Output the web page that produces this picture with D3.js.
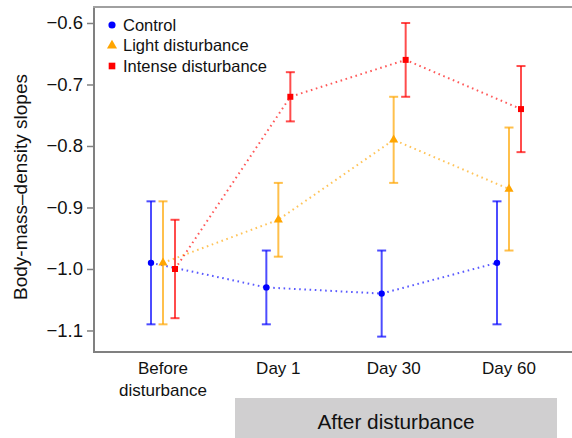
<!DOCTYPE html>
<html>
<head>
<meta charset="utf-8">
<script src="https://cdn.jsdelivr.net/npm/d3@7"></script>
<style>
  body { margin: 0; background: #fff; }
  text { font-family: "Liberation Sans", Arial, sans-serif; fill: #111; }
</style>
</head>
<body>
<svg id="chart" width="572" height="438"></svg>
<script>
// categories on the x axis
const categories = ["Before\ndisturbance", "Day 1", "Day 30", "Day 60"];
const seriesNames = ["Control", "Light disturbance", "Intense disturbance"];
const seriesColors = ["#0000ff", "#ffa500", "#ff0000"];

// mean, lower, upper per category
const controlMean = [-0.99, -1.03, -1.04, -0.99];
const controlLow = [-1.09, -1.09, -1.11, -1.09];
const controlHigh = [-0.89, -0.97, -0.97, -0.89];

const lightMean = [-0.99, -0.92, -0.79, -0.87];
const lightLow = [-1.09, -0.98, -0.86, -0.97];
const lightHigh = [-0.89, -0.86, -0.72, -0.77];

const intenseMean = [-1.00, -0.72, -0.66, -0.74];
const intenseLow = [-1.08, -0.76, -0.72, -0.81];
const intenseHigh = [-0.92, -0.68, -0.60, -0.67];

const yTicks = [-0.6, -0.7, -0.8, -0.9, -1.0, -1.1];

const series = [
    { name: seriesNames[0], color: seriesColors[0], mean: controlMean, low: controlLow, high: controlHigh, shape: d3.symbolCircle, size: 32 },
    { name: seriesNames[1], color: seriesColors[1], mean: lightMean, low: lightLow, high: lightHigh, shape: d3.symbolTriangle, size: 36 },
    { name: seriesNames[2], color: seriesColors[2], mean: intenseMean, low: intenseLow, high: intenseHigh, shape: d3.symbolSquare, size: 36 }
];

const svg = d3.select("#chart");
const margin = { left: 94, top: 7, right: 590, bottom: 352 };

let x = d3.scalePoint()
    .domain(categories)
    .range([163, 509]);

let y = d3.scaleLinear()
    .domain([-1.135, -0.574])
    .range([margin.bottom, margin.top]);

let offset = d3.scalePoint()
    .domain(seriesNames)
    .range([-12, 12]);

// axis lines (left, bottom, top)
svg.append("line")
    .attr("x1", margin.left).attr("x2", margin.left)
    .attr("y1", margin.top).attr("y2", margin.bottom + 1)
    .attr("stroke", "#808080").attr("stroke-width", 2);
svg.append("line")
    .attr("x1", margin.left - 1).attr("x2", margin.right)
    .attr("y1", margin.bottom).attr("y2", margin.bottom)
    .attr("stroke", "#808080").attr("stroke-width", 2);
svg.append("line")
    .attr("x1", margin.left - 1).attr("x2", margin.right)
    .attr("y1", margin.top).attr("y2", margin.top)
    .attr("stroke", "#a0a0a0").attr("stroke-width", 2);

// y axis
let yAxis = d3.axisLeft(y)
    .tickValues(yTicks)
    .tickSize(7)
    .tickPadding(4)
    .tickFormat(d => d3.format(".1f")(d).replace("-", "\u2212"));

let gy = svg.append("g")
    .attr("transform", `translate(${margin.left},0)`)
    .call(yAxis);
gy.select(".domain").remove();
gy.selectAll(".tick line").attr("stroke", "#808080").attr("stroke-width", 1.5);
gy.selectAll(".tick text")
    .attr("font-size", 18.5)
    .attr("fill", "#111")
    .style("font-family", "'Liberation Sans', Arial, sans-serif");

// y label
svg.append("text")
    .attr("transform", "translate(27,187) rotate(-90)")
    .attr("text-anchor", "middle")
    .attr("font-size", 19)
    .text("Body-mass\u2013density slopes");

// x category labels
categories.forEach(c => {
    let lines = c.split("\n");
    let t = svg.append("text")
        .attr("x", x(c))
        .attr("y", 374)
        .attr("text-anchor", "middle")
        .attr("font-size", 17);
    lines.forEach((l, i) => {
        t.append("tspan")
            .attr("x", x(c))
            .attr("dy", i === 0 ? 0 : 22)
            .text(l);
    });
});

// after disturbance band
svg.append("rect")
    .attr("x", 235)
    .attr("y", 398)
    .attr("width", 322)
    .attr("height", 40)
    .attr("fill", "#d0cfd0");
svg.append("text")
    .attr("x", 396)
    .attr("y", 429)
    .attr("text-anchor", "middle")
    .attr("font-size", 20.8)
    .text("After disturbance");

// series: dotted lines, error bars, markers
series.forEach(s => {
    let pts = categories.map((c, i) => ({
        x: x(c) + offset(s.name),
        mean: s.mean[i],
        low: s.low[i],
        high: s.high[i]
    }));

    svg.append("path")
        .datum(pts)
        .attr("fill", "none")
        .attr("stroke", s.color)
        .attr("stroke-opacity", 0.65)
        .attr("stroke-width", 2)
        .attr("stroke-dasharray", "1.6,3.6")
        .attr("d", d3.line().x(d => d.x).y(d => y(d.mean)));

    let g = svg.append("g").attr("stroke", s.color).attr("stroke-opacity", 0.7).attr("stroke-width", 2);
    g.selectAll(".bar").data(pts).join("line")
        .attr("x1", d => d.x).attr("x2", d => d.x)
        .attr("y1", d => y(d.low)).attr("y2", d => y(d.high));
    g.selectAll(".capLow").data(pts).join("line")
        .attr("x1", d => d.x - 4.5).attr("x2", d => d.x + 4.5)
        .attr("y1", d => y(d.low)).attr("y2", d => y(d.low));
    g.selectAll(".capHigh").data(pts).join("line")
        .attr("x1", d => d.x - 4.5).attr("x2", d => d.x + 4.5)
        .attr("y1", d => y(d.high)).attr("y2", d => y(d.high));

    svg.append("g").selectAll("path").data(pts).join("path")
        .attr("transform", d => `translate(${d.x},${y(d.mean)})`)
        .attr("d", d3.symbol().type(s.shape).size(s.size))
        .attr("fill", s.color);
});

// legend
series.forEach((s, i) => {
    let ly = 25 + i * 20.5;
    svg.append("path")
        .attr("transform", `translate(112,${ly})`)
        .attr("d", d3.symbol().type(s.shape).size(s.size + 8))
        .attr("fill", s.color);
    svg.append("text")
        .attr("x", 123)
        .attr("y", ly)
        .attr("dy", "0.36em")
        .attr("font-size", 16.5)
        .text(s.name);
});
</script>
</body>
</html>
